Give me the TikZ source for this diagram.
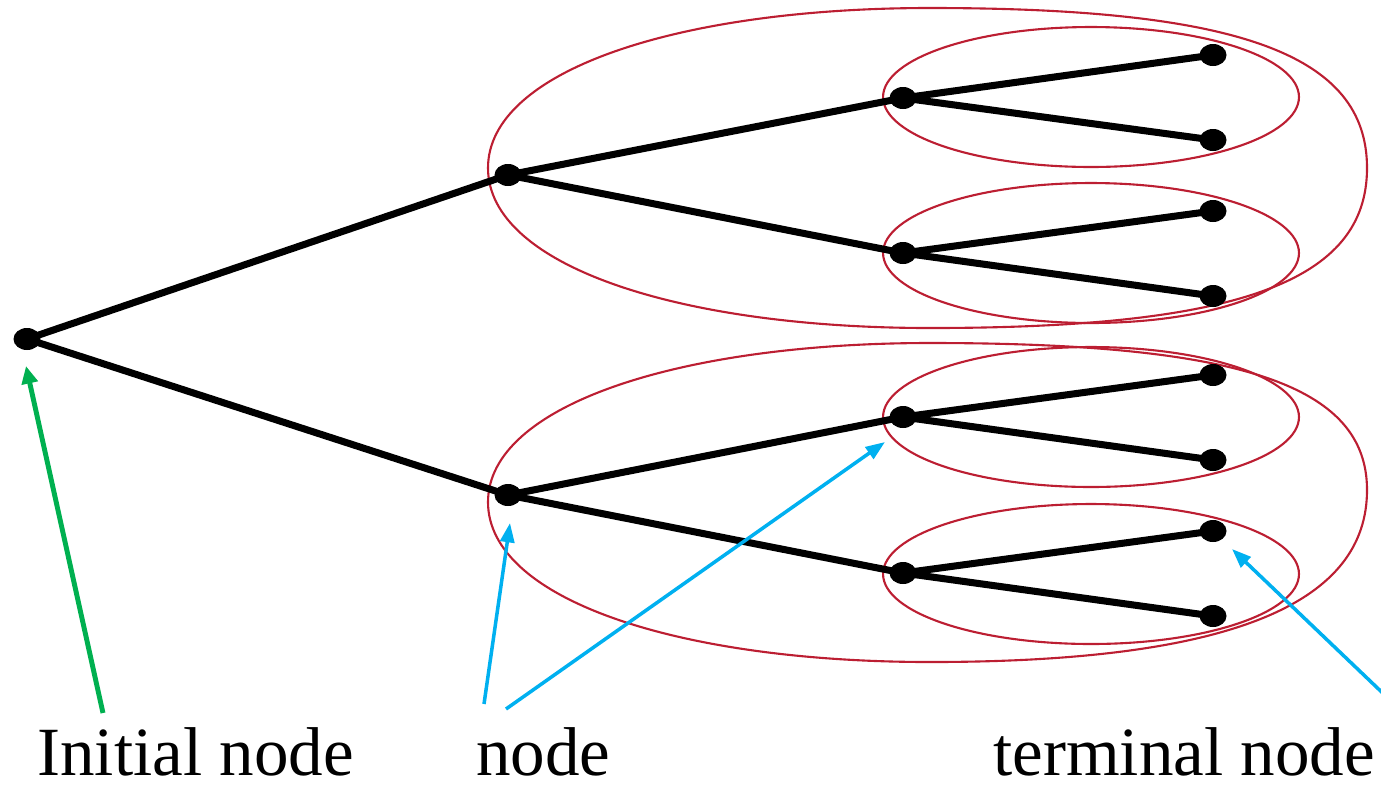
\documentclass[tikz,border=0pt]{standalone}
\usepackage{fontspec}
\setmainfont{Liberation Serif}
\usetikzlibrary{shapes.geometric,arrows.meta}
\definecolor{setred}{RGB}{188,30,50}
\definecolor{pointblue}{RGB}{0,176,240}
\definecolor{startgreen}{RGB}{0,176,80}
\tikzset{
  dot/.style={ellipse,fill=black,draw=none,inner sep=0pt,minimum width=0.54cm,minimum height=0.44cm},
  branch/.style={line width=4pt,black},
  infoset/.style={draw=setred,line width=1.2pt},
  pairset/.style={ellipse,infoset,minimum width=8.32cm,minimum height=2.8cm,inner sep=0pt},
  pointer/.style={pointblue,line width=2pt,-{Triangle[length=11pt,width=8pt]}},
  startptr/.style={startgreen,line width=2.8pt,-{Triangle[length=10pt,width=9pt]}},
  caption/.style={font=\fontsize{39.3}{47}\selectfont,inner sep=0pt,anchor=base west}
}
\begin{document}
\begin{tikzpicture}[x=0.02cm,y=-0.02cm]
\useasboundingbox (0,0) rectangle (1381,789);

% information sets of the second player
\draw[infoset] (488,168) .. controls (488,70) and (680,8) .. (930,8)
  .. controls (1240,8) and (1367,55) .. (1367,168)
  .. controls (1367,281) and (1240,328) .. (930,328)
  .. controls (680,328) and (488,266) .. cycle;
\draw[infoset] (488,502) .. controls (488,405) and (680,343) .. (930,343)
  .. controls (1240,343) and (1367,385) .. (1367,490)
  .. controls (1367,600) and (1240,662) .. (930,662)
  .. controls (680,662) and (488,600) .. cycle;

\node[pairset] (s1) at (1091,97) {};
\node[pairset] (s2) at (1091,253) {};
\node[pairset] (s3) at (1091,417) {};
\node[pairset] (s4) at (1091,574) {};

% game tree
\node[dot] (r)  at (27,339) {};
\node[dot] (a)  at (508,175) {};
\node[dot] (b)  at (508,495) {};
\node[dot] (a1) at (903,98) {};
\node[dot] (a2) at (903,253) {};
\node[dot] (b1) at (903,417) {};
\node[dot] (b2) at (903,573) {};
\node[dot] (t1) at (1213,55) {};
\node[dot] (t2) at (1213,140) {};
\node[dot] (t3) at (1213,211) {};
\node[dot] (t4) at (1213,296) {};
\node[dot] (t5) at (1213,375) {};
\node[dot] (t6) at (1213,460) {};
\node[dot] (t7) at (1213,531) {};
\node[dot] (t8) at (1213,616) {};

\draw[branch] (r.center) -- (a.center);
\draw[branch] (r.center) -- (b.center);
\draw[branch] (a.center) -- (a1.center);
\draw[branch] (a.center) -- (a2.center);
\draw[branch] (b.center) -- (b1.center);
\draw[branch] (b.center) -- (b2.center);
\draw[branch] (a1.center) -- (t1.center);
\draw[branch] (a1.center) -- (t2.center);
\draw[branch] (a2.center) -- (t3.center);
\draw[branch] (a2.center) -- (t4.center);
\draw[branch] (b1.center) -- (t5.center);
\draw[branch] (b1.center) -- (t6.center);
\draw[branch] (b2.center) -- (t7.center);
\draw[branch] (b2.center) -- (t8.center);

% captions
\node[caption] (lInit) at (37,775) {Initial node};
\node[caption] (lNode) at (476,775) {node};
\node[caption] (lTerm) at (993,775) {terminal node};

% pointers
\coordinate (gTail) at (103,713);
\coordinate (gTip) at (26,366);
\coordinate (n1Tail) at (484,704);
\coordinate (n1Tip) at (510,523);
\coordinate (n2Tail) at (506,709);
\coordinate (n2Tip) at (885,442);
\coordinate (tTail) at (1390,700);
\coordinate (tTip) at (1232,549);

\draw[startptr] (gTail) -- (gTip);
\draw[pointer] (n1Tail) -- (n1Tip);
\draw[pointer] (n2Tail) -- (n2Tip);
\draw[pointer] (tTail) -- (tTip);
\end{tikzpicture}
\end{document}
